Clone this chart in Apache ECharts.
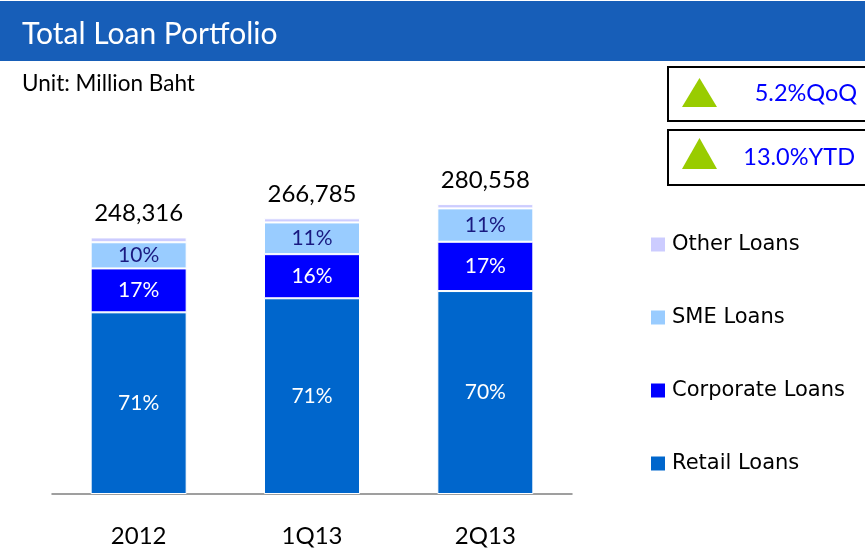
<!DOCTYPE html>
<html>
<head>
<meta charset="utf-8">
<script src="https://cdn.jsdelivr.net/npm/echarts@6/dist/echarts.min.js"></script>
<style>
  html, body { margin: 0; padding: 0; background: #fff; }
  #chart { width: 865px; height: 551px; }
</style>
</head>
<body>
<div id="chart"></div>
<script>
// periods
const categories = ['2012', '1Q13', '2Q13']
// totals shown above bars (million baht)
const totals = [248316, 266785, 280558]
// segment values (million baht)
const retailLoans = [175800, 189400, 196400]
const corporateLoans = [42500, 42700, 47700]
const smeLoans = [25300, 30700, 32300]
const otherLoans = [4716, 3985, 4158]
// percentage labels printed in the bars
const retailPct = ['71%', '71%', '70%']
const corporatePct = ['17%', '16%', '17%']
const smePct = ['10%', '11%', '11%']

const font = 'Lato'
const chart = echarts.init(document.getElementById('chart'))

const segment = (name, data, color, pct, labelColor) => ({
  name: name,
  type: 'bar',
  stack: 'loans',
  barWidth: 96,
  data: data,
  itemStyle: { color: color, borderColor: '#fff', borderWidth: 1 },
  label: {
    show: true,
    position: 'inside',
    color: labelColor,
    fontFamily: font,
    fontSize: 21,
    formatter: p => pct[p.dataIndex]
  }
})

const option = {
  animation: false,
  backgroundColor: '#fff',
  graphic: [
    {
      type: 'rect',
      shape: { x: 0, y: 1, width: 865, height: 60 },
      style: { fill: '#175EB8' }
    },
    {
      type: 'text',
      left: 22,
      top: 19,
      style: { text: 'Total Loan Portfolio', fill: '#fff', font: '30px Lato' }
    },
    {
      type: 'text',
      left: 22,
      top: 72,
      style: { text: 'Unit: Million Baht', fill: '#000', font: '22.5px Lato' }
    },
    {
      type: 'rect',
      shape: { x: 668, y: 67, width: 210, height: 54 },
      style: { fill: '#fff', stroke: '#000', lineWidth: 2 }
    },
    {
      type: 'rect',
      shape: { x: 668, y: 130, width: 210, height: 55 },
      style: { fill: '#fff', stroke: '#000', lineWidth: 2 }
    },
    {
      type: 'polygon',
      shape: { points: [[682, 107], [699.5, 78], [717, 107]] },
      style: { fill: '#99CC00' }
    },
    {
      type: 'polygon',
      shape: { points: [[682, 169], [699.5, 138], [717, 169]] },
      style: { fill: '#99CC00' }
    },
    {
      type: 'text',
      right: 8,
      top: 81,
      style: { text: '5.2%QoQ', fill: '#0000FF', font: '23.5px Lato' }
    },
    {
      type: 'text',
      right: 10,
      top: 145,
      style: { text: '13.0%YTD', fill: '#0000FF', font: '23.5px Lato' }
    }
  ],
  legend: {
    orient: 'vertical',
    left: 651,
    top: 234,
    padding: 0,
    itemGap: 52,
    itemWidth: 14,
    itemHeight: 14,
    icon: 'rect',
    itemStyle: { borderWidth: 0 },
    data: ['Other Loans', 'SME Loans', 'Corporate Loans', 'Retail Loans'],
    textStyle: { fontFamily: 'DejaVu Sans', fontSize: 21, color: '#000', padding: [0, 0, 0, 2] }
  },
  grid: { left: 52, right: 293, top: 184, bottom: 57 },
  xAxis: {
    type: 'category',
    data: categories,
    axisLine: { lineStyle: { color: '#808080', width: 1.5 } },
    axisTick: { show: false },
    axisLabel: { color: '#000', fontFamily: font, fontSize: 24, margin: 30 }
  },
  yAxis: {
    type: 'value',
    min: 0,
    max: 300000,
    show: false,
    splitLine: { show: false }
  },
  series: [
    segment('Retail Loans', retailLoans, '#0066CC', retailPct, '#fff'),
    segment('Corporate Loans', corporateLoans, '#0000FF', corporatePct, '#fff'),
    segment('SME Loans', smeLoans, '#99CCFF', smePct, '#1A1A80'),
    {
      name: 'Other Loans',
      type: 'bar',
      stack: 'loans',
      barWidth: 96,
      data: otherLoans,
      itemStyle: { color: '#CCCCFF', borderColor: '#fff', borderWidth: 1 },
      label: {
        show: true,
        position: 'top',
        distance: 12,
        color: '#000',
        fontFamily: font,
        fontSize: 24,
        formatter: p => totals[p.dataIndex].toLocaleString('en-US')
      }
    }
  ]
}

chart.setOption(option)
window.onresize = function () {
  chart.resize()
}
</script>
</body>
</html>
